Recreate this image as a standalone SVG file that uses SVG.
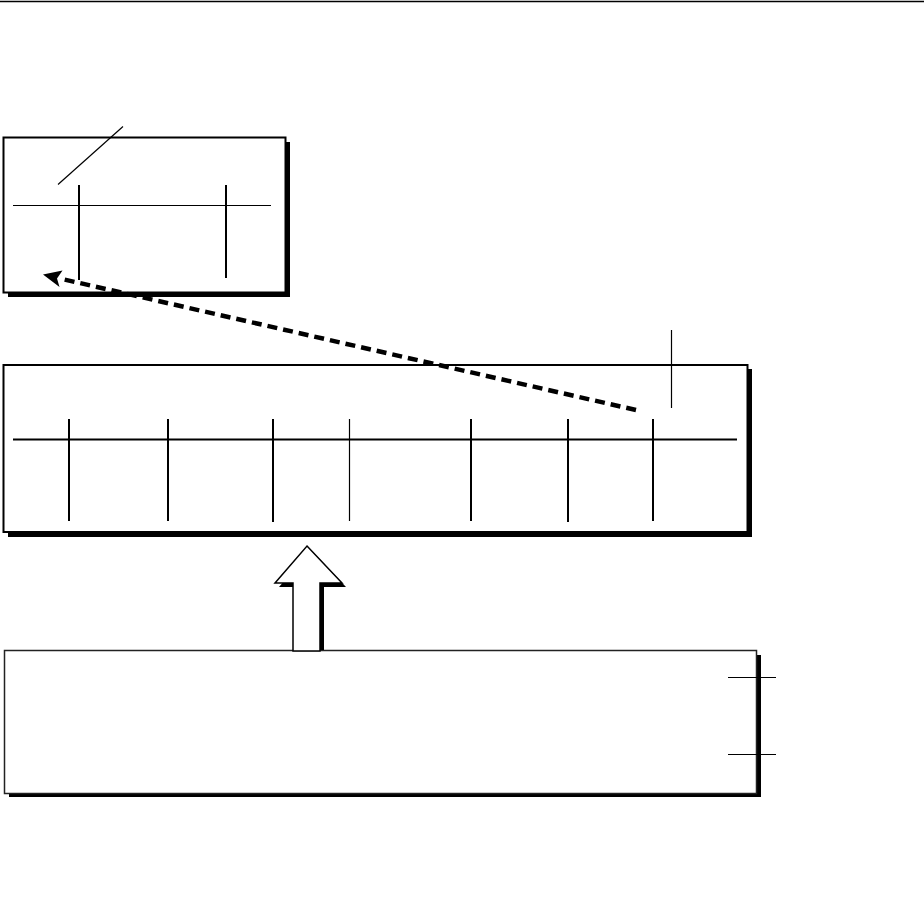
<svg xmlns="http://www.w3.org/2000/svg" width="924" height="923" viewBox="0 0 924 923">
<style>
.box{fill:#fff;stroke:#000;stroke-width:2}
.sh{fill:#000}
.thin{stroke:#000;stroke-width:1.2;fill:none}
.tick{stroke:#000;stroke-width:2;fill:none}
</style>
<rect width="924" height="923" fill="#fff"/>
<line x1="0" y1="1.5" x2="924" y2="1.5" stroke="#000" stroke-width="1.5"/>

<g id="box1">
<rect class="sh" x="8" y="142" width="282" height="155"/>
<rect class="box" x="3.5" y="137.5" width="282" height="155"/>
<line class="thin" x1="123" y1="126.5" x2="58" y2="184.5"/>
<line class="thin" x1="13" y1="205.5" x2="271" y2="205.5"/>
<line class="tick" x1="79" y1="185" x2="79" y2="280"/>
<line class="tick" x1="226" y1="185" x2="226" y2="278"/>
</g>

<g id="box2">
<rect class="sh" x="8" y="369" width="744" height="168"/>
<rect class="box" x="3.5" y="365" width="744" height="167"/>
<line class="tick" x1="13" y1="439.5" x2="737" y2="439.5"/>
<line class="tick" x1="69" y1="419" x2="69" y2="521"/>
<line class="tick" x1="168" y1="419" x2="168" y2="521"/>
<line class="tick" x1="273" y1="419" x2="273" y2="522"/>
<line class="thin" x1="349.5" y1="419" x2="349.5" y2="521"/>
<line class="tick" x1="471" y1="419" x2="471" y2="521"/>
<line class="tick" x1="568" y1="419" x2="568" y2="522"/>
<line class="tick" x1="653" y1="419" x2="653" y2="521"/>
<line class="thin" x1="671.5" y1="330" x2="671.5" y2="408"/>
</g>

<g id="box3">
<rect class="sh" x="9" y="655" width="752" height="142"/>
<rect x="4.5" y="650.5" width="752" height="143" fill="#fff" stroke="#222" stroke-width="1.5"/>
<line class="thin" x1="728" y1="677.5" x2="776" y2="677.5"/>
<line class="thin" x1="728" y1="754.5" x2="776" y2="754.5"/>
</g>

<g id="connectors">
<line x1="636" y1="410" x2="62" y2="279" stroke="#000" stroke-width="4.5" stroke-dasharray="10,6"/>
<polygon points="43,274.5 62.5,270.5 57,278.5 59.5,287" fill="#000"/>
<g id="block-arrow">
<polygon points="311,550 346,587 324,587 324,650 297,650 297,587 279,587" fill="#000"/>
<polygon points="307,546 342,583 320,583 320,651 293,651 293,583 275,583" fill="#fff" stroke="#000" stroke-width="1.5"/>
</g>
</g>
</svg>
